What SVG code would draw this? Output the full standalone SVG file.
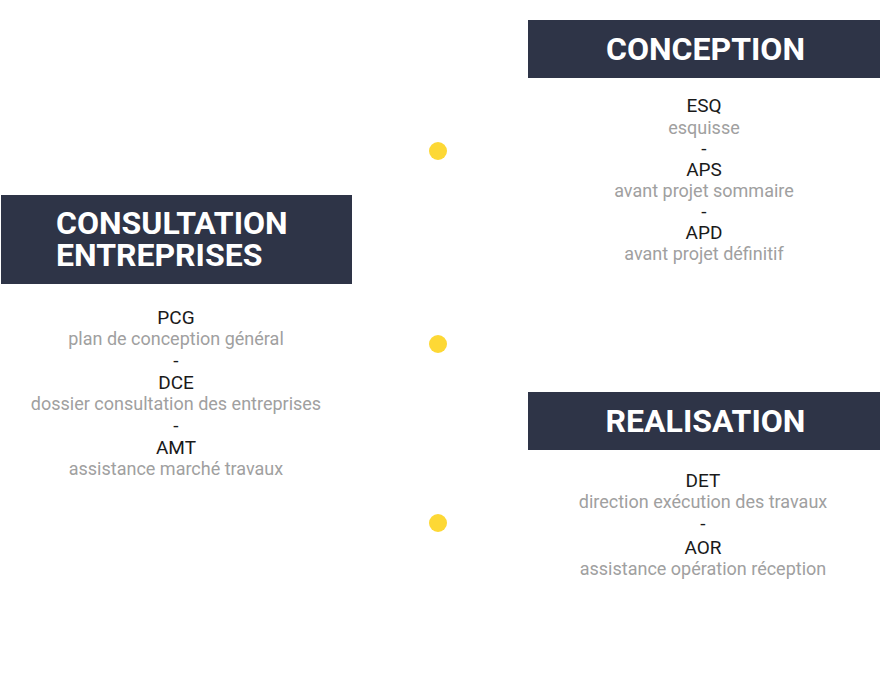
<svg xmlns="http://www.w3.org/2000/svg" width="880" height="680" viewBox="0 0 880 680">
<style>
.box{fill:#2e3447}
.h{font-family:Roboto,"Liberation Sans",sans-serif;font-weight:bold;font-size:32px;fill:#fff}
.a{font-family:Roboto,"Liberation Sans",sans-serif;font-size:19px;fill:#1a1a1a;text-anchor:middle}
.d{font-family:Roboto,"Liberation Sans",sans-serif;font-size:18px;fill:#a0a0a0;text-anchor:middle}
.dot{fill:#fdd835}
</style>
<rect width="880" height="680" fill="#fff"/>
<g id="connectors"></g>
<g id="dots">
<circle class="dot" cx="438" cy="151" r="9"/>
<circle class="dot" cx="438" cy="344" r="9"/>
<circle class="dot" cx="438" cy="523" r="9"/>
</g>
<g id="conception">
<rect class="box" x="528" y="20" width="352" height="58"/>
<text class="h" x="705.500" y="60" text-anchor="middle">CONCEPTION</text>
<text class="a" x="704" y="112">ESQ</text>
<text class="d" x="704" y="134">esquisse</text>
<text class="a" x="704" y="155">-</text>
<text class="a" x="704" y="176">APS</text>
<text class="d" x="704" y="197">avant projet sommaire</text>
<text class="a" x="704" y="218">-</text>
<text class="a" x="704" y="239">APD</text>
<text class="d" x="704" y="260">avant projet définitif</text>
</g>
<g id="consultation">
<rect class="box" x="1" y="195" width="351" height="89"/>
<text class="h" x="56" y="234">CONSULTATION</text>
<text class="h" x="56" y="266">ENTREPRISES</text>
<text class="a" x="176" y="324">PCG</text>
<text class="d" x="176" y="345">plan de conception général</text>
<text class="a" x="176" y="367">-</text>
<text class="a" x="176" y="389">DCE</text>
<text class="d" x="176" y="410">dossier consultation des entreprises</text>
<text class="a" x="176" y="432">-</text>
<text class="a" x="176" y="454">AMT</text>
<text class="d" x="176" y="475">assistance marché travaux</text>
</g>
<g id="realisation">
<rect class="box" x="528" y="392" width="352" height="58"/>
<text class="h" x="705.500" y="432" text-anchor="middle">REALISATION</text>
<text class="a" x="703" y="487">DET</text>
<text class="d" x="703" y="508">direction exécution des travaux</text>
<text class="a" x="703" y="530">-</text>
<text class="a" x="703" y="554">AOR</text>
<text class="d" x="703" y="575">assistance opération réception</text>
</g>
</svg>
